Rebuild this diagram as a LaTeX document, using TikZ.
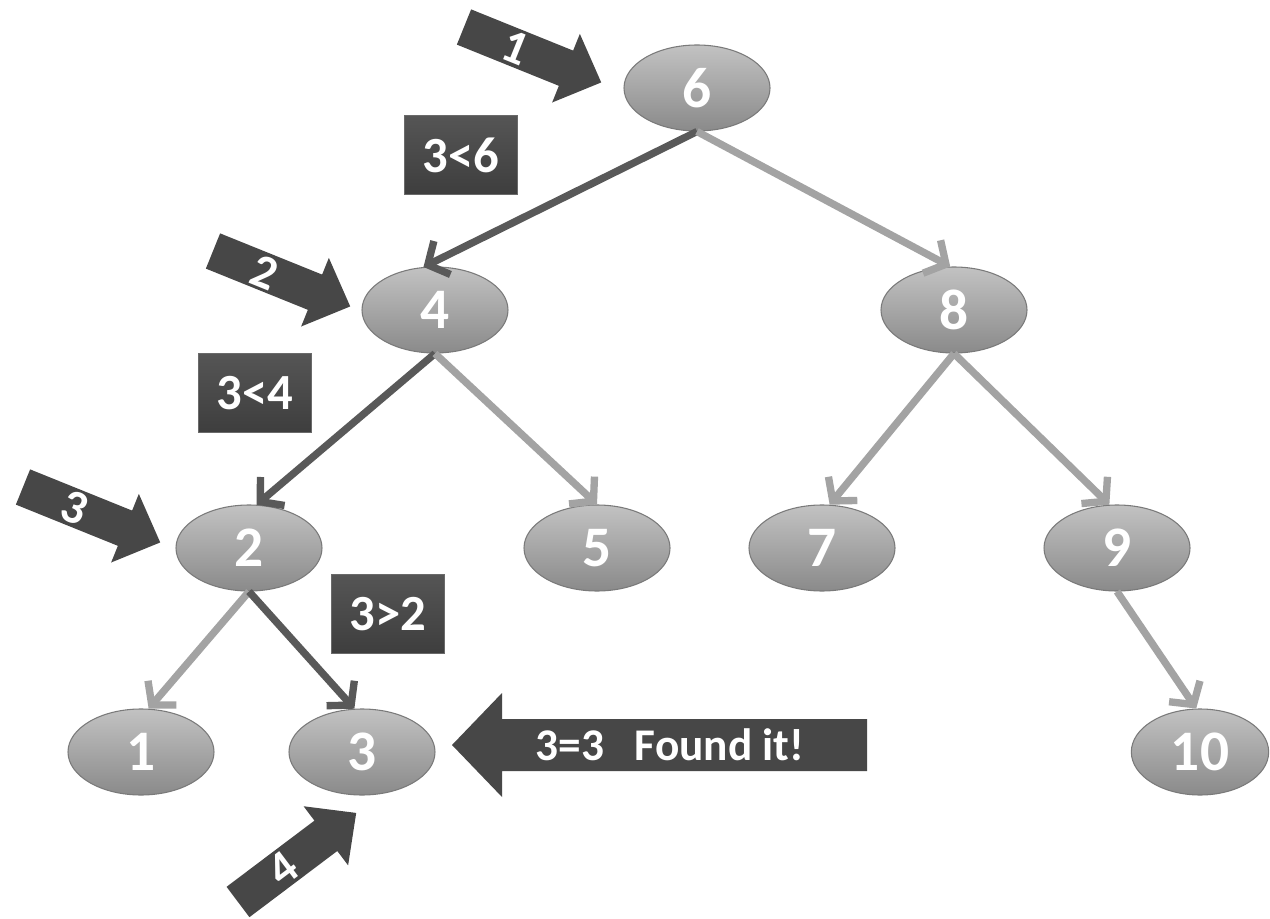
\documentclass[tikz,border=0pt]{standalone}
\usepackage{fontspec}
\setmainfont{Carlito}
\usetikzlibrary{shapes.geometric,arrows.meta}
\definecolor{nodetop}{HTML}{C2C2C2}
\definecolor{nodebot}{HTML}{8A8A8A}
\definecolor{nodeedge}{HTML}{7A7A7A}
\definecolor{edgedark}{HTML}{595959}
\definecolor{edgelight}{HTML}{A3A3A3}
\definecolor{boxtop}{HTML}{555555}
\definecolor{boxbot}{HTML}{3E3E3E}
\definecolor{boxedge}{HTML}{6A6A6A}
\definecolor{arrowfill}{HTML}{474747}
% #1 name, #2 tail, #3 angle, #4 label
\newcommand{\steparrow}[4]{%
  \begin{scope}[shift={#2}, rotate=#3]
    \fill[arrowfill] (0,-19) -- (110,-19) -- (110,-37) -- (148,0) -- (110,37)
      -- (110,19) -- (0,19) -- cycle;
    \node[steptext, transform shape] (#1) at (56,0) {#4};
  \end{scope}}
\begin{document}
\begin{tikzpicture}[x=0.75pt,y=-0.75pt,
  bst/.style={ellipse, minimum width=109.5pt, minimum height=64.5pt, inner sep=0pt,
    top color=nodetop, bottom color=nodebot, draw=nodeedge, line width=0.8pt,
    text=white, font=\fontsize{43}{45}\selectfont\bfseries},
  cmpbox/.style={rectangle, minimum width=85pt, minimum height=59pt, inner sep=0pt,
    top color=boxtop, bottom color=boxbot, draw=boxedge, line width=0.8pt,
    text=white, font=\fontsize{38}{40}\selectfont\bfseries},
  steptext/.style={inner sep=0pt, text=white, font=\fontsize{36}{38}\selectfont\bfseries},
  foundtext/.style={inner sep=0pt, text=white, font=\fontsize{34}{36}\selectfont\bfseries},
  tree/.style={line width=5.5pt, -{Straight Barb[length=12pt,width=28pt]}},
  hot/.style={tree, draw=edgedark},
  cold/.style={tree, draw=edgelight}
]
\fill[white] (0,0) rectangle (1270,919);

% tree nodes
\node[bst] (n6) at (697,88) {6};
\node[bst] (n4) at (435,310) {4};
\node[bst] (n8) at (954,310) {8};
\node[bst] (n2) at (249,548) {2};
\node[bst] (n5) at (597,548) {5};
\node[bst] (n7) at (822,548) {7};
\node[bst] (n9) at (1117,548) {9};
\node[bst] (n1) at (141,752) {1};
\node[bst] (n3) at (362,752) {3};
\node[bst, minimum width=103pt] (n10) at (1200,752) {10};

% connectors
\draw[hot]  (n6.south) -- (n4.105);
\draw[cold] (n6.south) -- (n8.95);
\draw[hot]  (n4.south) -- (n2.80);
\draw[cold] (n4.south) -- (n5.north);
\draw[cold] (n8.south) -- (n7.80);
\draw[cold] (n8.south) -- (n9.100);
\draw[cold] (n2.south) -- (n1.80);
\draw[hot]  (n2.south) -- (n3.100);
\draw[cold] (n9.south) -- (n10.95);

% comparison boxes
\node[cmpbox] (c1) at (461,155) {3<6};
\node[cmpbox] (c2) at (255,393) {3<4};
\node[cmpbox] (c3) at (388,614) {3>2};

% step arrows
\steparrow{p1}{(464,27)}{-22}{1}
\steparrow{p2}{(213,251)}{-22}{2}
\steparrow{p3}{(23,487)}{-22}{3}
\steparrow{p4}{(238,902)}{37}{4}

% found arrow
\fill[arrowfill] (867,719) -- (867,771) -- (502,771) -- (502,797) -- (452,745)
  -- (502,693) -- (502,719) -- cycle;
\node[foundtext] (f) at (670,745) {3=3\hspace{0.45em} Found it!};
\end{tikzpicture}
\end{document}
